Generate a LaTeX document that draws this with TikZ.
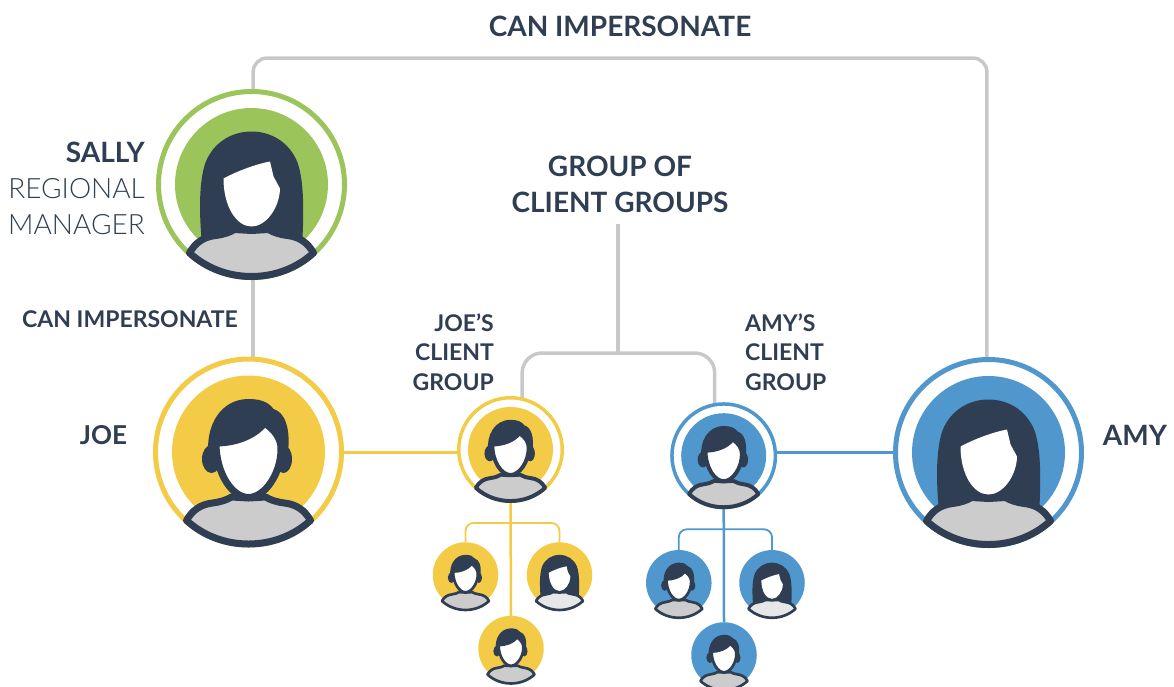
\documentclass[tikz,border=0pt]{standalone}
\usepackage{fontspec}
\setmainfont{Lato}
\newfontfamily\lightfont{Lato Light}
\usetikzlibrary{backgrounds}
\definecolor{sallygreen}{HTML}{9BC45A}
\definecolor{joeyellow}{HTML}{F3CB47}
\definecolor{amyblue}{HTML}{4F97CD}
\definecolor{inkdark}{HTML}{2F3E52}
\definecolor{linegray}{HTML}{C8C8C8}
\definecolor{bodygray}{HTML}{CCCCCC}
\definecolor{bodypale}{HTML}{E6E8E8}
\newcommand{\personbody}{
    \draw[inkdark, line join=round, bodyfill]
        (-62,68.4) .. controls (-56,58) and (-48,52.5) .. (-36,51)
        .. controls (-28,50) and (-22,48) .. (-17,45) -- (0,46) -- (17,45)
        .. controls (22,48) and (28,50) .. (36,51)
        .. controls (48,52.5) and (56,58) .. (62,68.4)
        .. controls (45,84) and (22.7,92) .. (0,92)
        .. controls (-22.7,92) and (-45,84) .. (-62,68.4) -- cycle;
}
\tikzset{
    bodyfill/.style={fill=bodygray},
    pics/manicon/.style={code={
        \fill[inkdark] (-40,2) .. controls (-43,-26) and (-28,-53) .. (0,-53)
            .. controls (12,-53) and (20,-50) .. (25,-43)
            .. controls (36,-40) and (43,-24) .. (39,4) -- (0,10) -- cycle;
        \fill[inkdark] (-37,7) ellipse (9.5 and 14);
        \fill[inkdark] (35,7) ellipse (8.5 and 14);
        \personbody
        \draw[inkdark, fill=white, line join=round] (-32.5,-9) .. controls (-15,-9) and (5,-15) .. (16,-29)
            .. controls (26,-22) and (32.5,-14) .. (32.5,-3)
            .. controls (32.5,22) and (16,45.5) .. (0,45.5)
            .. controls (-16,45.5) and (-32.5,22) .. (-32.5,-9) -- cycle;
    }},
    pics/womanicon/.style={code={
        \fill[inkdark] (-50,54) .. controls (-52,30) and (-53,-2) .. (-46,-22)
            .. controls (-38,-42) and (-20,-53) .. (0,-53)
            .. controls (20,-53) and (38,-42) .. (46,-22)
            .. controls (53,-2) and (52,30) .. (51,54) -- cycle;
        \personbody
        \fill[white] (-28,-6) .. controls (-15,-13) and (3,-20) .. (18.5,-23)
            -- (22,-8) -- (28.5,4)
            .. controls (28,24) and (14,42) .. (0,42)
            .. controls (-15,42) and (-28,22) .. (-28,-6) -- cycle;
    }}
}
\begin{document}
\begin{tikzpicture}[
            x=1pt, y=-1pt,
            disc/.style={circle, fill=#1, inner sep=0pt, outer sep=0pt},
            ring/.style={circle, draw=#1, inner sep=0pt, outer sep=0pt},
            bigdisc/.style={disc=#1, minimum size=153pt},
            bigring/.style={ring=#1, minimum size=186pt, line width=5pt},
            middisc/.style={disc=#1, minimum size=85pt},
            midring/.style={ring=#1, minimum size=103.5pt, line width=3.5pt},
            smalldisc/.style={disc=#1, minimum size=65.5pt},
            person/.style={scale=#1, line width=7pt*#1},
            link/.style={draw=linegray, line width=3.5pt},
            heading/.style={text=inkdark, inner sep=0pt, font=\bfseries\fontsize{28}{36}\selectfont},
            smallhead/.style={text=inkdark, inner sep=0pt, font=\bfseries\fontsize{23}{29.5}\selectfont}
        ]
        \useasboundingbox (0,0) rectangle (1174,686);
        \clip (0,0) rectangle (1174,686);

        \node[bigdisc=sallygreen] (sallydisc) at (251.5,184.5) {};
        \node[bigring=sallygreen] (sally) at (sallydisc) {};
        \pic[person=1] at (sally) {womanicon};

        \node[bigdisc=joeyellow] (joedisc) at (248.5,452) {};
        \node[bigring=joeyellow] (joe) at (joedisc) {};
        \pic[person=1] at (joe) {manicon};

        \node[bigdisc=amyblue] (amydisc) at (988.5,452.5) {};
        \node[bigring=amyblue] (amy) at (amydisc) {};
        \pic[person=1] at (amy) {womanicon};

        \node[middisc=joeyellow] (joegroupdisc) at (510.5,449.5) {};
        \node[midring=joeyellow] (joegroup) at (joegroupdisc) {};
        \pic[person=0.56] at (joegroup) {manicon};

        \node[middisc=amyblue] (amygroupdisc) at (723.7,455.7) {};
        \node[midring=amyblue] (amygroup) at (amygroupdisc) {};
        \pic[person=0.56] at (amygroup) {manicon};

        \foreach \name/\xpos/\ypos/\shade in {joeleft/465.5/575/joeyellow, joebottom/511/648.5/joeyellow, amyleft/678.8/582.8/amyblue, amybottom/724/655/amyblue} {
            \node[smalldisc=\shade] (\name) at (\xpos,\ypos) {};
            \pic[person=0.38] at (\name) {manicon};
        }
        \foreach \name/\xpos/\ypos/\shade in {joeright/559.5/575/joeyellow, amyright/772/582.8/amyblue} {
            \node[smalldisc=\shade] (\name) at (\xpos,\ypos) {};
            \pic[person=0.38, bodyfill/.style={fill=bodypale}] at (\name) {womanicon};
        }

        \node[heading] (topimpersonate) at (620,26) {CAN IMPERSONATE};
        \node[heading, align=center, inner ysep=11pt] (clientgroups) at (620,184) {GROUP OF\\CLIENT GROUPS};
        \node[heading, align=right, anchor=east] (sallylabel) at (145,188) {SALLY\\{\lightfont\mdseries REGIONAL}\\{\lightfont\mdseries MANAGER}};
        \node[heading, font=\bfseries\fontsize{26}{36}\selectfont] (joelabel) at (103.5,435) {JOE};
        \node[heading] (amylabel) at (1135,435) {AMY};
        \node[smallhead, anchor=east] (sideimpersonate) at (238,319) {CAN IMPERSONATE};
        \node[smallhead, align=right, anchor=east] (joegrouplabel) at (494,352) {JOE’S\\CLIENT\\GROUP};
        \node[smallhead, align=left, anchor=west] (amygrouplabel) at (745,352) {AMY’S\\CLIENT\\GROUP};

        \coordinate (toprail) at (620,58);
        \coordinate (groupjoin) at (618,353);
        \coordinate (joebranch) at (511,523);
        \coordinate (amybranch) at (724,529.3);

        \begin{scope}[on background layer]
            \draw[link, rounded corners=14pt] (sally.89) |- (toprail) -| (amy.91);
            \draw[link] (sally.271) -- (sally.271 |- joe.north);
            \draw[link] (clientgroups.south -| groupjoin) -- (groupjoin);
            \draw[link, rounded corners=20pt] (joegroup.77) |- (groupjoin) -| (amygroup.100);
            \draw[joeyellow, line width=3pt] (joe.east) -- (joe.east -| joegroup.west);
            \draw[amyblue, line width=3pt] (amy.west) -- (amy.west -| amygroup.east);
            \draw[joeyellow, line width=2.5pt] (joegroup.south) -- (joebottom.north);
            \draw[amyblue, line width=2.5pt] (amygroup.south) -- (amybottom.north);
            \draw[joeyellow, line width=1.8pt, rounded corners=8pt] (joeleft.north) |- (joebranch) -| (joeright.north);
            \draw[amyblue, line width=1.8pt, rounded corners=8pt] (amyleft.north) |- (amybranch) -| (amyright.north);
        \end{scope}
\end{tikzpicture}
\end{document}
